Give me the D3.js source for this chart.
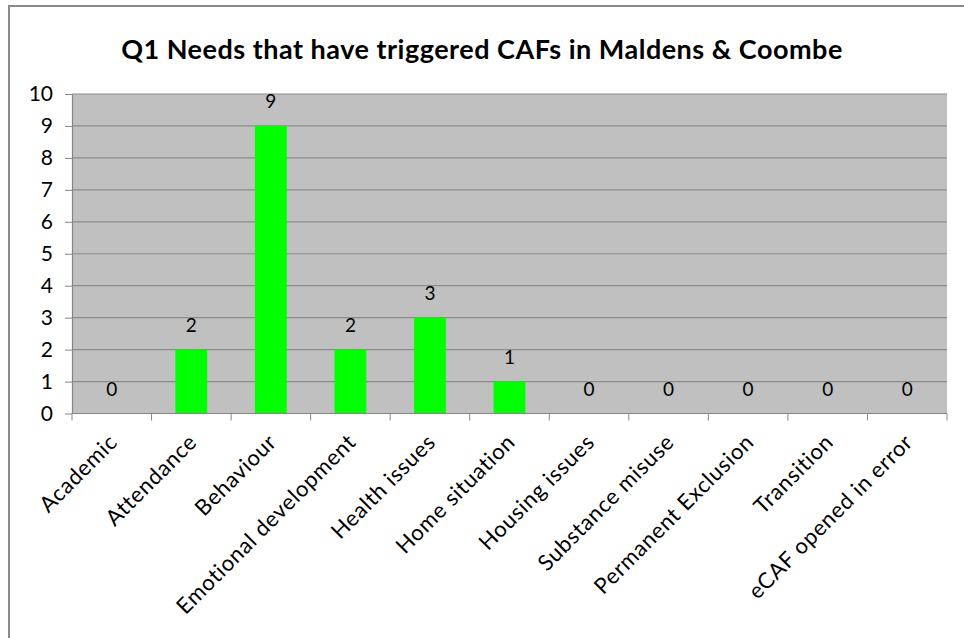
<!DOCTYPE html>
<html>
<head>
<meta charset="utf-8">
<script src="https://cdn.jsdelivr.net/npm/d3@7"></script>
<style>
  html, body { margin: 0; padding: 0; background: #fff; }
  svg { display: block; }
  text { font-family: Lato, "Open Sans", sans-serif; fill: #000; }
</style>
</head>
<body>
<svg id="chart" width="964" height="638"></svg>
<script>
// Needs that triggered CAFs, one count per category
const categories = [
  "Academic", "Attendance", "Behaviour", "Emotional development",
  "Health issues", "Home situation", "Housing issues", "Substance misuse",
  "Permanent Exclusion", "Transition", "eCAF opened in error"
];
const counts = [0, 2, 9, 2, 3, 1, 0, 0, 0, 0, 0];
const yTicks = [0, 1, 2, 3, 4, 5, 6, 7, 8, 9, 10];
const titleText = "Q1 Needs that have triggered CAFs in Maldens & Coombe";

const svg = d3.select("#chart");
const plot = { left: 72, right: 947, top: 94, bottom: 413.5 };

// outer chart frame (continues past the page edge on right and bottom)
svg.append("rect")
  .attr("x", 9).attr("y", 6)
  .attr("width", 1000).attr("height", 700)
  .attr("fill", "#fff")
  .attr("stroke", "#898989").attr("stroke-width", 2);

svg.append("text")
  .attr("x", 482).attr("y", 59)
  .attr("text-anchor", "middle")
  .attr("font-size", 27).attr("font-weight", "bold")
  .attr("letter-spacing", 0.5)
  .text(titleText);

const x = d3.scaleBand()
  .domain(categories)
  .range([plot.left, plot.right])
  .paddingInner(0.6).paddingOuter(0.3);

const y = d3.scaleLinear()
  .domain([0, 10])
  .range([plot.bottom, plot.top]);

// plot area background
svg.append("rect")
  .attr("x", plot.left).attr("y", plot.top)
  .attr("width", plot.right - plot.left).attr("height", plot.bottom - plot.top)
  .attr("fill", "#c0c0c0");

// horizontal gridlines
svg.append("g")
  .selectAll("line")
  .data(yTicks.filter(d => d > 0))
  .join("line")
  .attr("x1", plot.left).attr("x2", plot.right)
  .attr("y1", d => y(d)).attr("y2", d => y(d))
  .attr("stroke", "#8c8c8c").attr("stroke-width", 1.2);

// bars
svg.append("g")
  .selectAll("rect")
  .data(counts)
  .join("rect")
  .attr("x", (d, i) => x(categories[i]))
  .attr("width", x.bandwidth())
  .attr("y", d => y(d))
  .attr("height", d => y(0) - y(d))
  .attr("fill", "#00ff00");

// value labels
svg.append("g")
  .selectAll("text")
  .data(counts)
  .join("text")
  .attr("x", (d, i) => x(categories[i]) + x.bandwidth() / 2)
  .attr("y", d => y(d) - 18)
  .attr("text-anchor", "middle")
  .attr("font-size", 19)
  .text(d => d);

// y axis
const yAxis = d3.axisLeft(y).tickValues(yTicks).tickSize(7).tickPadding(12).tickSizeOuter(0);
const gy = svg.append("g")
  .attr("transform", `translate(${plot.left},0)`)
  .call(yAxis);
gy.select(".domain").attr("stroke", "#868686").attr("stroke-width", 1.2);
gy.selectAll(".tick line").attr("stroke", "#868686");
gy.selectAll(".tick text")
  .attr("font-size", 21)
  .attr("font-family", "Lato, 'Open Sans', sans-serif")
  .attr("fill", "#000");

// x axis baseline and category boundary ticks
const step = x.step();
const boundaries = d3.range(categories.length + 1).map(i => plot.left + i * step);
const gx = svg.append("g");
gx.append("line")
  .attr("x1", plot.left).attr("x2", plot.right)
  .attr("y1", plot.bottom).attr("y2", plot.bottom)
  .attr("stroke", "#868686").attr("stroke-width", 1.2);
gx.selectAll("line.tk")
  .data(boundaries)
  .join("line")
  .attr("class", "tk")
  .attr("x1", d => d).attr("x2", d => d)
  .attr("y1", plot.bottom).attr("y2", plot.bottom + 7)
  .attr("stroke", "#868686");

// rotated category labels
gx.selectAll("text")
  .data(categories)
  .join("text")
  .attr("text-anchor", "end")
  .attr("font-size", 22)
  .attr("letter-spacing", 0.7)
  .attr("transform", d => {
    const cx = x(d) + x.bandwidth() / 2 + 7;
    const cy = plot.bottom + 30;
    return `translate(${cx},${cy}) rotate(-45)`;
  })
  .text(d => d);
</script>
</body>
</html>
